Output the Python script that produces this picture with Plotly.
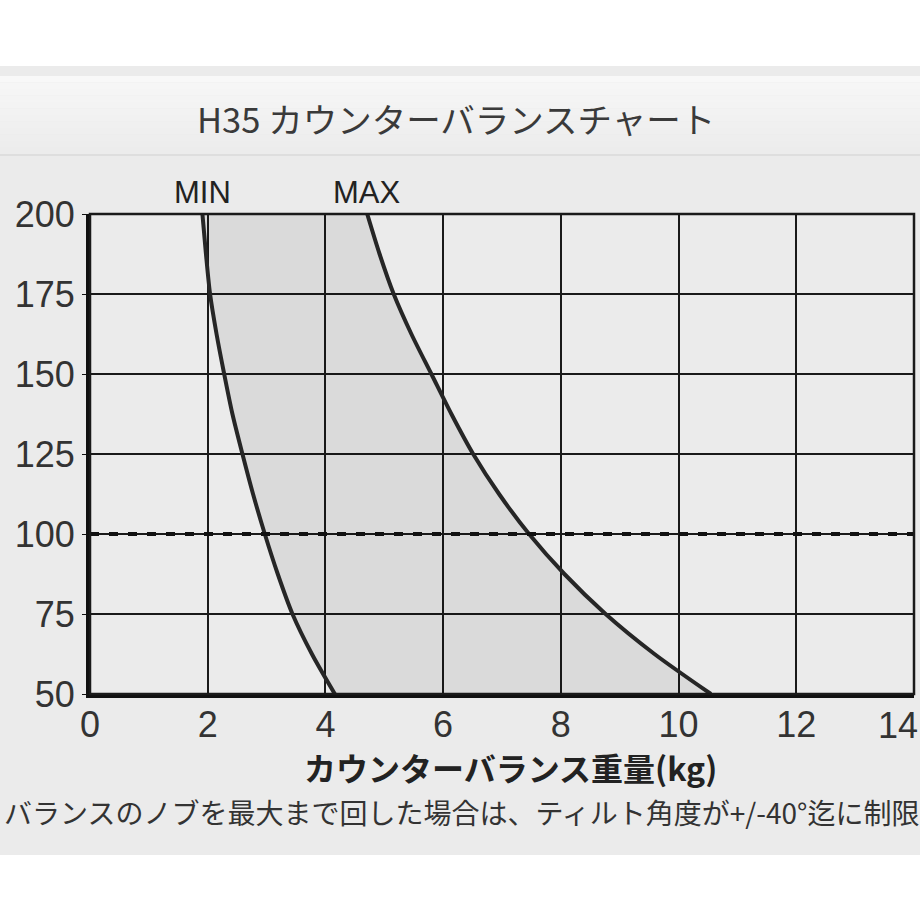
import plotly.graph_objects as go

# ---------------- data ----------------
load_levels = [200, 187.5, 175, 162.5, 150, 137.5, 125, 112.5, 100, 87.5, 75, 62.5, 50]   # y values
min_kg = [1.91, 1.97, 2.04, 2.15, 2.28, 2.42, 2.59, 2.77, 2.97, 3.19, 3.44, 3.77, 4.16]     # MIN curve
max_kg = [4.71, 4.92, 5.16, 5.46, 5.80, 6.14, 6.51, 6.95, 7.46, 8.06, 8.76, 9.59, 10.55]    # MAX curve
x_ticks = [0, 2, 4, 6, 8, 10, 12]
x_edge_tick = 14
y_ticks = [50, 75, 100, 125, 150, 175, 200]
ref_level = [100, 100]
ref_span = [0, 14]
curve_labels = ["MIN", "MAX"]

title_text = "H35 カウンターバランスチャート"
x_title = "<b>カウンターバランス重量(kg)</b>"
note_text = "バランスのノブを最大まで回した場合は、ティルト角度が+/-40°迄に制限"

# ---------------- geometry (pixels) ----------------
W, H = 920, 920
L, R, T, B = 90, 6, 214, 226
pw, ph = W - L - R, H - T - B


def px_x(p):
    return (p - L) / pw


def px_y(p):
    return (H - B - p) / ph


fig = go.Figure()

fig.add_trace(go.Scatter(
    x=min_kg, y=load_levels, mode="lines",
    line=dict(color="#262626", width=4, shape="spline", smoothing=0.8),
    hoverinfo="skip", showlegend=False))
fig.add_trace(go.Scatter(
    x=max_kg, y=load_levels, mode="lines", fill="tonextx",
    fillcolor="rgba(0,0,0,0.07)",
    line=dict(color="#262626", width=4, shape="spline", smoothing=0.8),
    hoverinfo="skip", showlegend=False))
fig.add_trace(go.Scatter(
    x=ref_span, y=ref_level, mode="lines",
    line=dict(color="#111111", width=4, dash="9px,10px"),
    hoverinfo="skip", showlegend=False))

shapes = []
# grey panel
shapes.append(dict(type="rect", xref="paper", yref="paper",
                   x0=px_x(0), x1=px_x(W), y0=px_y(855), y1=px_y(66),
                   fillcolor="#ebebeb", line=dict(width=0), layer="below"))
# title band gradient
n = 12
top, bot = 76, 154
for i in range(n):
    y0 = top + (bot - top) * i / n
    y1 = top + (bot - top) * (i + 1) / n
    c = int(248 - (248 - 236) * i / (n - 1))
    shapes.append(dict(type="rect", xref="paper", yref="paper",
                       x0=px_x(0), x1=px_x(W), y0=px_y(y1), y1=px_y(y0),
                       fillcolor=f"rgb({c},{c},{c})", line=dict(width=0), layer="below"))
shapes.append(dict(type="line", xref="paper", yref="paper",
                   x0=px_x(0), x1=px_x(W), y0=px_y(155), y1=px_y(155),
                   line=dict(color="#dadada", width=1.5), layer="below"))
# plot frame (top/right)
shapes.append(dict(type="rect", xref="paper", yref="paper", x0=0, x1=1, y0=0, y1=1,
                   line=dict(color="#1a1a1a", width=2.5), layer="above"))

tick_font = dict(family="Liberation Sans", size=36, color="#333333")

annotations = [
    dict(text=title_text, xref="paper", yref="paper", x=px_x(456), y=px_y(118),
         showarrow=False, xanchor="center", yanchor="middle",
         font=dict(family="Noto Sans CJK JP", size=34.5, color="#3a3a3a")),
    dict(text=x_title, xref="paper", yref="paper", x=px_x(510), y=px_y(767),
         showarrow=False, xanchor="center", yanchor="middle",
         font=dict(family="Noto Sans CJK JP", size=32, color="#222222")),
    dict(text=note_text, xref="paper", yref="paper", x=px_x(2), y=px_y(812),
         showarrow=False, xanchor="left", yanchor="middle",
         font=dict(family="Noto Sans CJK JP", size=28, color="#333333")),
    # last x tick label sits at the right edge of the page
    dict(text=str(x_edge_tick), xref="x", yref="paper", x=x_edge_tick, y=0,
         showarrow=False, xanchor="right", yanchor="middle", xshift=6, yshift=-31,
         font=tick_font),
]
for lab, xs in zip(curve_labels, [min_kg, max_kg]):
    annotations.append(dict(text=lab, x=xs[0], y=load_levels[0], xref="x", yref="y",
                            showarrow=False, xanchor="center", yanchor="bottom", yshift=2,
                            font=dict(family="Liberation Sans", size=31, color="#222222")))

fig.update_layout(
    width=W, height=H,
    margin=dict(l=L, r=R, t=T, b=B, pad=0),
    paper_bgcolor="white", plot_bgcolor="#eeeeee",
    shapes=shapes, annotations=annotations,
    showlegend=False,
    xaxis=dict(range=[0, 14], tickvals=x_ticks, showgrid=True, gridcolor="#1a1a1a",
               gridwidth=2, zeroline=False, showline=True, linecolor="#111111", linewidth=4,
               ticks="", ticklabelstandoff=-4, tickfont=tick_font, fixedrange=True),
    yaxis=dict(range=[50, 200], tickvals=y_ticks, showgrid=True, gridcolor="#1a1a1a",
               gridwidth=2, zeroline=False, showline=True, linecolor="#111111", linewidth=4,
               ticks="outside", ticklen=4, tickcolor="#111111", tickfont=tick_font,
               fixedrange=True),
)

fig.write_html("out.html")
